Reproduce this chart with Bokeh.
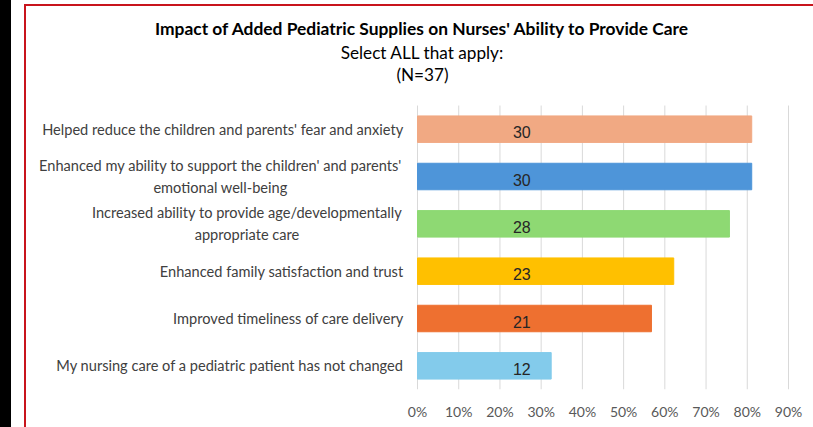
from bokeh.plotting import figure
from bokeh.models import (ColumnDataSource, Range1d, FixedTicker, NumeralTickFormatter)
from bokeh.core.properties import value
from bokeh.embed import file_html
from bokeh.resources import INLINE

# ---------------- data ----------------
categories = [
    "Helped reduce the children and parents' fear and anxiety",
    "Enhanced my ability to support the children' and parents'\nemotional well-being",
    "Increased ability to provide age/developmentally\nappropriate care",
    "Enhanced family satisfaction and trust",
    "Improved timeliness of care delivery",
    "My nursing care of a pediatric patient has not changed",
]
counts = [30, 30, 28, 23, 21, 12]
n_total = 37
colors = ["#F1A983", "#4E95D9", "#8ED973", "#FFC000", "#EE7030", "#83CBEB"]
x_ticks = [0, 0.1, 0.2, 0.3, 0.4, 0.5, 0.6, 0.7, 0.8, 0.9]

title_text = "Impact of Added Pediatric Supplies on Nurses' Ability to Provide Care"
subtitle1 = "Select ALL that apply:"
subtitle2 = "(N=37)"

# ---------------- layout (pixels) ----------------
W, H = 813, 427
zero_px, max_px = 417, 788          # where 0% and 90% sit
plot_bottom = 389                   # bottom of bar area
row_px = 47.33                      # height of one category row
label_gap = 14                      # gap between labels and 0% line
first_w = {categories[1]: 366, categories[2]: 313}   # approx width of first lines

k = (max_px - zero_px) / x_ticks[-1]
pct = [c / n_total for c in counts]
n = len(categories)
ypos = [n - i - 0.5 for i in range(n)]

src = ColumnDataSource(dict(y=ypos, pct=pct, color=colors,
                            label=[str(c) for c in counts],
                            lx=[0.253] * n))

# category labels: wrapped labels are centred under their first line
lab_align, lab_off = [], []
for c in categories:
    if "\n" in c:
        lab_align.append("center")
        lab_off.append(-label_gap - first_w[c] / 2)
    else:
        lab_align.append("right")
        lab_off.append(-label_gap)
lsrc = ColumnDataSource(dict(y=ypos, text=categories, align=lab_align,
                             off=lab_off, x=[0] * n))

p = figure(width=W, height=H, output_backend="svg", toolbar_location=None,
           x_range=Range1d(-zero_px / k, (W - zero_px) / k),
           y_range=Range1d(0, plot_bottom / row_px),
           y_axis_location=None,
           min_border_left=0, min_border_right=0,
           min_border_top=0, min_border_bottom=H - plot_bottom)
p.extra_x_ranges = {"px": Range1d(0, W)}
p.extra_y_ranges = {"px": Range1d(0, plot_bottom)}
p.outline_line_color = None
p.background_fill_color = None
p.border_fill_color = None
p.styles = {
    "background": (
        "linear-gradient(#000000,#000000) 0px 0px / 11px 100% no-repeat, "
        "linear-gradient(#C8141C,#C8141C) 24px 4px / 2px 100% no-repeat, "
        "linear-gradient(#C8141C,#C8141C) 24px 4px / 100% 2px no-repeat, "
        "#ffffff"
    )
}
p.xgrid.grid_line_color = None
p.ygrid.grid_line_color = None

# vertical gridlines only over the bar area
p.segment(x0=x_ticks, x1=x_ticks, y0=[0] * len(x_ticks), y1=[n] * len(x_ticks),
          line_color="#D9D9D9", line_width=1)

p.hbar(y="y", right="pct", left=0, height=0.56, color="color", source=src)
p.text(x="lx", y="y", text="label", source=src, text_font=value("Liberation Sans"),
       text_font_size="16px", text_color="#262626", text_align="center",
       text_baseline="middle", y_offset=3)

p.text(x="x", y="y", text="text", source=lsrc, text_align="align", x_offset="off",
       text_baseline="middle", text_font=value("Lato"), text_font_size="14.6px",
       text_color="#404040", text_line_height=1.3)

xa = p.xaxis[0]
xa.ticker = FixedTicker(ticks=x_ticks)
xa.formatter = NumeralTickFormatter(format="0%")
xa.axis_line_color = None
xa.major_tick_line_color = None
xa.minor_tick_line_color = None
xa.major_tick_out = 0
xa.major_label_standoff = 13
xa.major_label_text_font = "Lato"
xa.major_label_text_font_size = "14px"
xa.major_label_text_color = "#595959"

tsrc = ColumnDataSource(dict(
    x=[422, 422, 422],
    y=[plot_bottom - 28, plot_bottom - 52, plot_bottom - 74],
    text=[title_text, subtitle1, subtitle2],
    style=["bold", "normal", "normal"],
    size=["17.4px", "17.2px", "17.2px"],
))
p.text(x="x", y="y", text="text", source=tsrc, x_range_name="px", y_range_name="px",
       text_align="center", text_baseline="middle", text_font=value("Lato"),
       text_font_style="style", text_font_size="size", text_color="#000000")

open("out.html", "w").write(file_html(p, INLINE))
